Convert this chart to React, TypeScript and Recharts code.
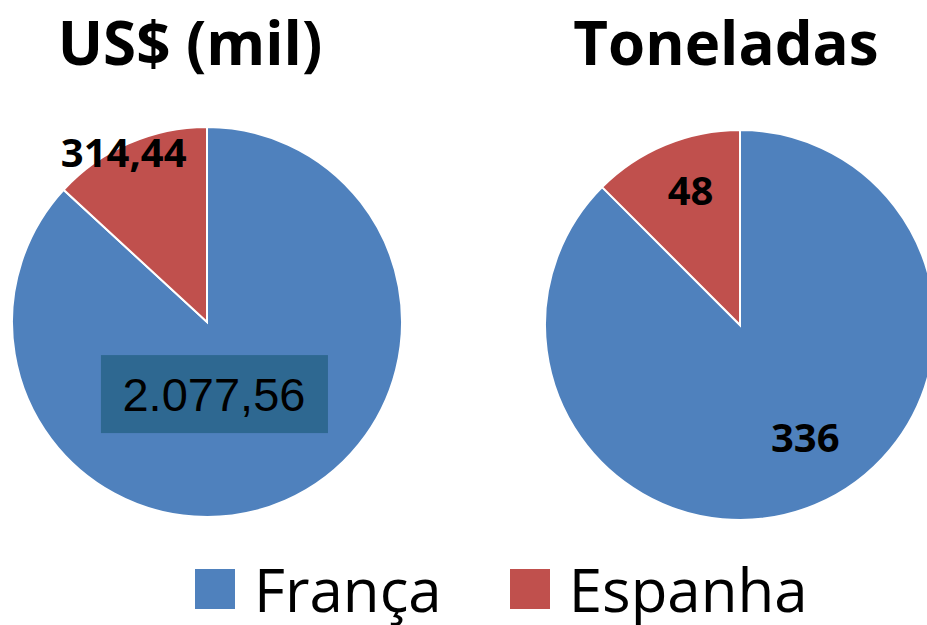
import React from 'react';
import { PieChart, Pie, Cell, Legend } from 'recharts';

const countries = ['França', 'Espanha'];
const usdValues = [2077.56, 314.44];
const usdLabels = ['2.077,56', '314,44'];
const tonValues = [336, 48];
const tonLabels = ['336', '48'];
const titles = ['US$ (mil)', 'Toneladas'];

const colors = ['#4f81bd', '#c0504d'];
const TITLE_FONT = '"Open Sans", "Noto Sans", sans-serif';

const usdData = countries.map((name, i) => ({ name, value: usdValues[i], label: usdLabels[i] }));
const tonData = countries.map((name, i) => ({ name, value: tonValues[i], label: tonLabels[i] }));

const RAD = Math.PI / 180;

// radius ratio + nudge per slice, so labels sit where the original puts them
const makeLabel = (ratios: number[], nudges: [number, number][], boxed: boolean[]) => (props: any) => {
  const { cx, cy, midAngle, outerRadius, index, payload } = props;
  const r = outerRadius * ratios[index];
  const x = cx + r * Math.cos(-midAngle * RAD) + nudges[index][0];
  const y = cy + r * Math.sin(-midAngle * RAD) + nudges[index][1];
  const text = payload.label;
  if (boxed[index]) {
    return (
      <g>
        <rect x={x - 113} y={y - 39} width={227} height={78} fill="#2e6891" />
        <text x={x} y={y} textAnchor="middle" dominantBaseline="central"
          fontFamily='"Liberation Sans", Arial, sans-serif' fontSize={47} fill="#000">
          {text}
        </text>
      </g>
    );
  }
  return (
    <text x={x} y={y} textAnchor="middle" dominantBaseline="central"
      fontFamily={TITLE_FONT} fontWeight="bold" fontSize={40} fill="#000">
      {text}
    </text>
  );
};

const LegendContent = () => (
  <div style={{ display: 'flex', paddingLeft: 195, fontFamily: TITLE_FONT, fontSize: 60, lineHeight: '60px' }}>
    {countries.map((c, i) => (
      <div key={c} style={{ display: 'flex', alignItems: 'center', marginRight: 68 }}>
        <span style={{ display: 'inline-block', width: 40, height: 40, background: colors[i], marginRight: 19 }} />
        <span>{c}</span>
      </div>
    ))}
  </div>
);

const titleStyle: React.CSSProperties = {
  position: 'absolute', width: 380, top: 1, textAlign: 'center',
  fontFamily: TITLE_FONT, fontWeight: 'bold', fontSize: 60, lineHeight: '82px',
};

export default function App() {
  return (
    <div style={{ position: 'absolute', left: 0, top: 0, width: 927, height: 625, background: '#fff', overflow: 'hidden' }}>
      <div style={{ ...titleStyle, left: 0 }}>{titles[0]}</div>
      <div style={{ ...titleStyle, left: 536 }}>{titles[1]}</div>
      <PieChart width={927} height={625} margin={{ top: 0, right: 0, bottom: 0, left: 0 }}
        style={{ position: 'absolute', left: 0, top: 0 }}>
        <Pie data={usdData} dataKey="value" nameKey="name" cx={207} cy={322} outerRadius={195}
          startAngle={90} endAngle={-270} stroke="#fff" strokeWidth={2} isAnimationActive={false}
          labelLine={false} label={makeLabel([0.37, 0.95], [[-22, 6], [-9, -1]], [true, false])}>
          {usdData.map((d, i) => <Cell key={d.name} fill={colors[i]} />)}
        </Pie>
        <Pie data={tonData} dataKey="value" nameKey="name" cx={740} cy={325} outerRadius={195}
          startAngle={90} endAngle={-270} stroke="#fff" strokeWidth={2} isAnimationActive={false}
          labelLine={false} label={makeLabel([0.66, 0.73], [[16, -7], [5, -4]], [false, false])}>
          {tonData.map((d, i) => <Cell key={d.name} fill={colors[i]} />)}
        </Pie>
        <Legend content={<LegendContent />} wrapperStyle={{ left: 0, top: 559, width: 927 }} />
      </PieChart>
    </div>
  );
}
